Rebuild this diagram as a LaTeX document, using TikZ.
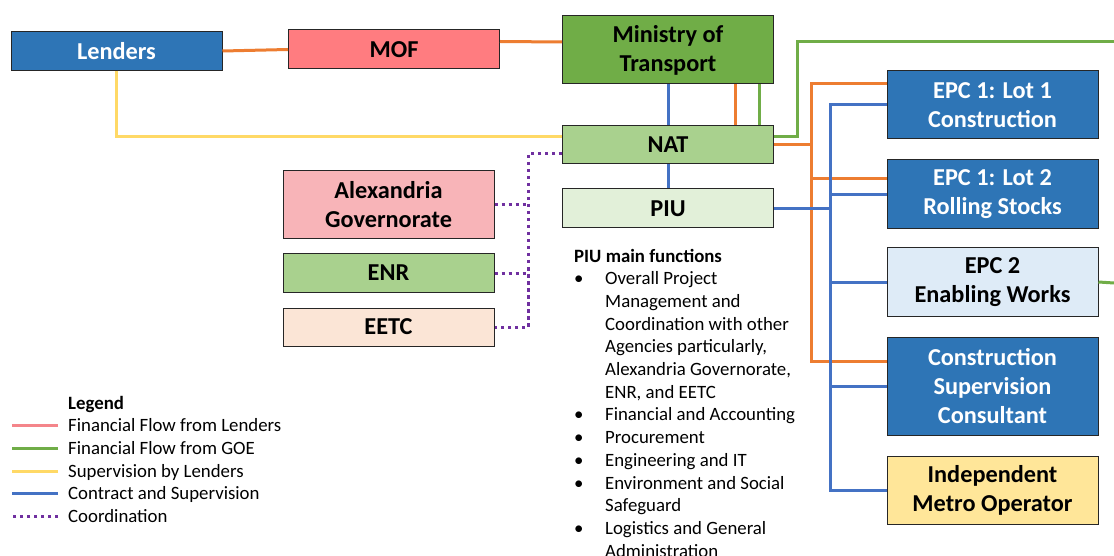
\documentclass[tikz,border=0pt]{standalone}
\usepackage{fontspec}
\setmainfont{Carlito}
\usetikzlibrary{calc}
\definecolor{boxblue}{HTML}{2E75B6}
\definecolor{mofred}{HTML}{FF7C80}
\definecolor{motgreen}{HTML}{70AD47}
\definecolor{natgreen}{HTML}{A9D18E}
\definecolor{piugreen}{HTML}{E2F0D9}
\definecolor{alexpink}{HTML}{F8B4B8}
\definecolor{eetcpeach}{HTML}{FBE5D6}
\definecolor{epcpale}{HTML}{DEEBF7}
\definecolor{imoyellow}{HTML}{FFE699}
\definecolor{linorange}{HTML}{ED7D31}
\definecolor{lingreen}{HTML}{70AD47}
\definecolor{linyellow}{HTML}{FFD966}
\definecolor{linblue}{HTML}{4472C4}
\definecolor{linpurple}{HTML}{7030A0}
\definecolor{legpink}{HTML}{F4858A}
\newcommand{\boxfont}{\fontsize{24.3}{29}\selectfont\bfseries}
\newcommand{\txtfont}{\fontsize{18.8}{22.7}\selectfont}

\begin{document}
\begin{tikzpicture}[x=1pt,y=-1pt,
  box/.style={draw=black!85,line width=1pt,minimum width=211pt,inner sep=0pt,
    font=\boxfont,align=center},
  wbox/.style={box,fill=boxblue,text=white},
  fin/.style={draw=linorange,line width=3pt},
  legfin/.style={draw=legpink,line width=3pt},
  goe/.style={draw=lingreen,line width=3pt},
  lsup/.style={draw=linyellow,line width=3pt},
  cont/.style={draw=linblue,line width=3pt},
  coord/.style={draw=linpurple,line width=3pt,dash pattern=on 3.5pt off 3.5pt}]
\useasboundingbox[fill=white] (0,0) rectangle (1114,556);

%organisations
\node[wbox,minimum height=39pt] (lenders) at (116.5,51) {Lenders};
\node[box,fill=mofred,minimum height=39pt] (mof) at (394,49.5) {MOF};
\node[box,fill=motgreen,minimum height=68pt] (mot) at (668,50) {Ministry of\\Transport};
\node[box,fill=natgreen,minimum height=38pt] (nat) at (668,145) {NAT};
\node[box,fill=piugreen,minimum height=39pt] (piu) at (668,208.5) {PIU};
\node[box,fill=alexpink,minimum height=68pt] (alex) at (388.5,205) {Alexandria\\Governorate};
\node[box,fill=natgreen,minimum height=38pt] (enr) at (388.5,273) {ENR};
\node[box,fill=eetcpeach,minimum height=38pt] (eetc) at (388.5,327) {EETC};

%contracts
\node[wbox,minimum height=68pt] (lotone) at (992.5,105) {EPC 1: Lot 1\\Construction};
\node[wbox,minimum height=69pt] (lottwo) at (992.5,194.5) {EPC 1: Lot 2\\Rolling Stocks};
\node[box,fill=epcpale,minimum height=68pt] (epctwo) at (992.5,282) {EPC 2\\Enabling Works};
\node[wbox,minimum height=98pt] (csc) at (992.5,386) {Construction\\Supervision\\Consultant};
\node[box,fill=imoyellow,minimum height=68pt] (imo) at (992.5,490) {Independent\\Metro Operator};

\coordinate (cbus) at (528,0);
\coordinate (finbus) at (811,0);
\coordinate (contbus) at (830,0);
\coordinate (goebend) at (797,42);
\coordinate (goetop) at (1114,42);
\coordinate (goeout) at (1114,283);
\coordinate (lotonefin) at ([yshift=21pt]lotone.west);
\coordinate (lottwofin) at ([yshift=15.5pt]lottwo.west);
\coordinate (cscfin) at ([yshift=25pt]csc.west);

%financial flow
\draw[fin] (lenders.east) -- (mof.west);
\draw[fin] ([yshift=8pt]mof.east) -- ([yshift=8pt]mot.west);
\draw[fin] ([xshift=67pt]mot.south) -- ([xshift=67pt]nat.north);
\draw[fin] (nat.east) -| (finbus |- lotonefin) -- (lotonefin);
\draw[fin] (nat.east -| finbus) |- (cscfin);
\draw[fin] (finbus |- lottwofin) -- (lottwofin);
\draw[goe] ([xshift=91pt]mot.south) -- ([xshift=91pt]nat.north);
\draw[goe] ([yshift=8pt]nat.east) -| (goebend) -- (goetop);
\draw[goe] (epctwo.east) -- (goeout);
\draw[lsup] (lenders.south) |- ([yshift=8pt]nat.west);

%contract and supervision
\draw[cont] (mot.south) -- (nat.north);
\draw[cont] (nat.south) -- (piu.north);
\draw[cont] (piu.east) -- (contbus |- piu.east);
\draw[cont] (lotone.west) -| (contbus |- imo.west) -- (imo.west);
\foreach \n in {lottwo,epctwo,csc}
  \draw[cont] (\n.west) -- (contbus |- \n.west);

%coordination
\draw[coord] ([yshift=-9pt]nat.west) -| (cbus |- eetc.east) -- (eetc.east);
\draw[coord] (alex.east) -- (cbus |- alex.east);
\draw[coord] (enr.east) -- (cbus |- enr.east);

%PIU functions
\node[anchor=base west,inner sep=0pt,font=\txtfont] (piutext) at (574,262) {%
  \begin{tabular}[t]{@{}l@{}l@{}}
  \multicolumn{2}{@{}l}{\bfseries PIU main functions}\\
  \makebox[31pt][l]{\textbullet} & Overall Project\\
  & Management and\\
  & Coordination with other\\
  & Agencies particularly,\\
  & Alexandria Governorate,\\
  & ENR, and EETC\\
  \textbullet & Financial and Accounting\\
  \textbullet & Procurement\\
  \textbullet & Engineering and IT\\
  \textbullet & Environment and Social\\
  & Safeguard\\
  \textbullet & Logistics and General\\
  & Administration
  \end{tabular}};

%legend
\node[anchor=base west,inner sep=0pt,font=\txtfont\bfseries] (leghead) at (68,409) {Legend};
\foreach \sty/\txt [count=\i] in {legfin/Financial Flow from Lenders,
    goe/Financial Flow from GOE,lsup/Supervision by Lenders,
    cont/Contract and Supervision,coord/Coordination}
{
  \node[anchor=base west,inner sep=0pt,font=\txtfont] (leg\i) at (68,409+22.7*\i) {\txt};
  \draw[\sty] ([xshift=-10pt,yshift=6pt]leg\i.base west) -- ++(-46pt,0);
}
\end{tikzpicture}
\end{document}
